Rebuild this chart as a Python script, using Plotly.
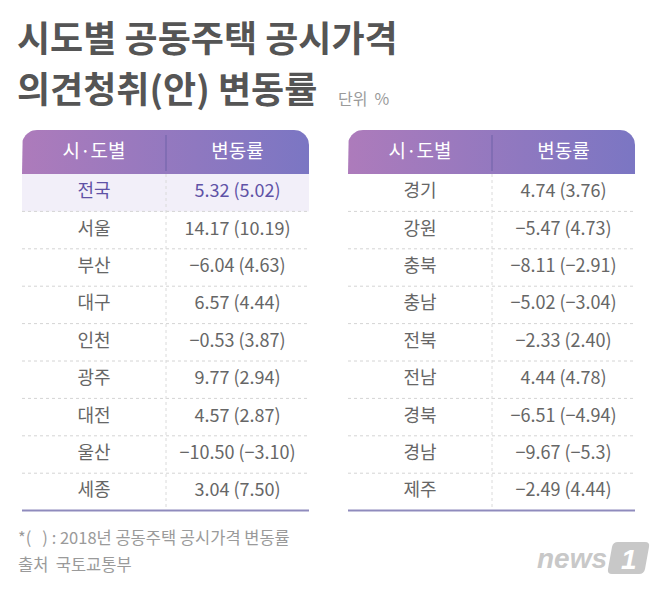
import numpy as np
import plotly.graph_objects as go

# ---------------- data ----------------
col_headers = ["시·도별", "변동률"]
left_regions = ["전국", "서울", "부산", "대구", "인천", "광주", "대전", "울산", "세종"]
left_rates = ["5.32 (5.02)", "14.17 (10.19)", "−6.04 (4.63)", "6.57 (4.44)", "−0.53 (3.87)",
              "9.77 (2.94)", "4.57 (2.87)", "−10.50 (−3.10)", "3.04 (7.50)"]
right_regions = ["경기", "강원", "충북", "충남", "전북", "전남", "경북", "경남", "제주"]
right_rates = ["4.74 (3.76)", "−5.47 (4.73)", "−8.11 (−2.91)", "−5.02 (−3.04)", "−2.33 (2.40)",
               "4.44 (4.78)", "−6.51 (−4.94)", "−9.67 (−5.3)", "−2.49 (4.44)"]
title_lines = ["시도별 공동주택 공시가격", "의견청취(안) 변동률"]
unit_label = "단위  %"
footnote = "*(   ) : 2018년 공동주택 공시가격 변동률"
source = "출처  국토교통부"

# ---------------- layout geometry ----------------
W, H = 658, 590
M = 8  # page body margin
FONT = "Noto Sans CJK KR"
HEAD_TOP, HEAD_BOT = 130, 174
ROW_H = 37.4
tables = [
    dict(x0=22, x1=309, xd=166, regions=left_regions, rates=left_rates),
    dict(x0=348, x1=635, xd=492, regions=right_regions, rates=right_rates),
]

fig = go.Figure()
shapes = []
annotations = []


def rounded_top(x0, x1, y0, y1, r=15, n=12):
    xs, ys = [x0], [y1]
    a = np.linspace(np.pi, 1.5 * np.pi, n)
    xs += list(x0 + r + r * np.cos(a)); ys += list(y0 + r + r * np.sin(a))
    a = np.linspace(1.5 * np.pi, 2 * np.pi, n)
    xs += list(x1 - r + r * np.cos(a)); ys += list(y0 + r + r * np.sin(a))
    xs += [x1, x0]; ys += [y1, y1]
    return xs, ys


for t in tables:
    x0, x1, xd = t["x0"], t["x1"], t["xd"]
    n = len(t["regions"])
    bottom = HEAD_BOT + ROW_H * n
    hx, hy = rounded_top(x0, x1, HEAD_TOP, HEAD_BOT)
    fig.add_trace(go.Scatter(
        x=hx, y=hy, mode="lines", fill="toself", line=dict(width=0),
        fillgradient=dict(type="horizontal",
                          colorscale=[[0, "#ad7bbb"], [1, "#7b76c3"]]),
        hoverinfo="skip", showlegend=False))
    shapes.append(dict(type="line", x0=xd, x1=xd, y0=HEAD_TOP + 5, y1=HEAD_BOT - 3,
                       line=dict(color="#6f63a8", width=1), layer="above"))
    if t["regions"][0] == "전국":
        shapes.append(dict(type="rect", x0=x0, x1=x1, y0=HEAD_BOT, y1=HEAD_BOT + ROW_H,
                           fillcolor="#f2eff9", line=dict(width=0), layer="below"))
    for i in range(1, n):
        y = HEAD_BOT + ROW_H * i
        shapes.append(dict(type="line", x0=x0, x1=x1, y0=y, y1=y,
                           line=dict(color="#d4d4d4", width=1, dash="dot")))
    shapes.append(dict(type="line", x0=xd, x1=xd, y0=HEAD_BOT, y1=bottom,
                       line=dict(color="#dadada", width=1, dash="dot")))
    shapes.append(dict(type="line", x0=x0, x1=x1, y0=bottom, y1=bottom,
                       line=dict(color="#8f8bbd", width=2)))

    cx1, cx2 = (x0 + xd) / 2, (xd + x1) / 2
    fig.add_trace(go.Scatter(
        x=[cx1, cx2], y=[(HEAD_TOP + HEAD_BOT) / 2 + 1] * 2, mode="text",
        text=col_headers, textfont=dict(family=FONT, size=19, color="white"),
        hoverinfo="skip", showlegend=False))
    ys = [HEAD_BOT + ROW_H * (i + 0.5) for i in range(n)]
    colors = ["#5f52a6" if r == "전국" else "#666666" for r in t["regions"]]
    fig.add_trace(go.Scatter(
        x=[cx1] * n, y=ys, mode="text", text=t["regions"],
        textfont=dict(family=FONT, size=18, color=colors),
        hoverinfo="skip", showlegend=False))
    fig.add_trace(go.Scatter(
        x=[cx2] * n, y=ys, mode="text", text=t["rates"],
        textfont=dict(family=FONT, size=18, color=colors),
        hoverinfo="skip", showlegend=False))

# titles
annotations.append(dict(x=15, y=36, text="<b>" + title_lines[0] + "</b>", showarrow=False,
                        xanchor="left", yanchor="middle",
                        font=dict(family=FONT, size=36, color="#555555")))
annotations.append(dict(x=15, y=87, text="<b>" + title_lines[1] + "</b>", showarrow=False,
                        xanchor="left", yanchor="middle",
                        font=dict(family=FONT, size=36, color="#555555")))
annotations.append(dict(x=336, y=98, text=unit_label, showarrow=False,
                        xanchor="left", yanchor="middle",
                        font=dict(family=FONT, size=16, color="#9a9a9a")))
# footer
annotations.append(dict(x=16, y=537, text=footnote, showarrow=False,
                        xanchor="left", yanchor="middle",
                        font=dict(family=FONT, size=16.5, color="#9a9a9a")))
annotations.append(dict(x=16, y=564, text=source, showarrow=False,
                        xanchor="left", yanchor="middle",
                        font=dict(family=FONT, size=16.5, color="#9a9a9a")))
# news1 logo
annotations.append(dict(x=572, y=558, text="<b><i>news</i></b>", showarrow=False,
                        xanchor="center", yanchor="middle",
                        font=dict(family="Liberation Sans", size=28, color="#c8c8c8")))
shapes.append(dict(type="path",
                   path="M 618 542 L 645 542 Q 650 542 649 547 L 645 569 Q 644 574 639 574 "
                        "L 612 574 Q 607 574 608 569 L 612 547 Q 613 542 618 542 Z",
                   fillcolor="#c8c8c8", line=dict(width=0)))
annotations.append(dict(x=629, y=559, text="<b><i>1</i></b>", showarrow=False,
                        xanchor="center", yanchor="middle",
                        font=dict(family="Liberation Sans", size=28, color="white")))

fig.update_layout(
    width=W - 2 * M, height=H - 2 * M, margin=dict(l=0, r=0, t=0, b=0),
    paper_bgcolor="white", plot_bgcolor="white",
    xaxis=dict(range=[M, W - M], visible=False, fixedrange=True),
    yaxis=dict(range=[H - M, M], visible=False, fixedrange=True),
    shapes=shapes, annotations=annotations, showlegend=False,
)
fig.write_html("out.html")
